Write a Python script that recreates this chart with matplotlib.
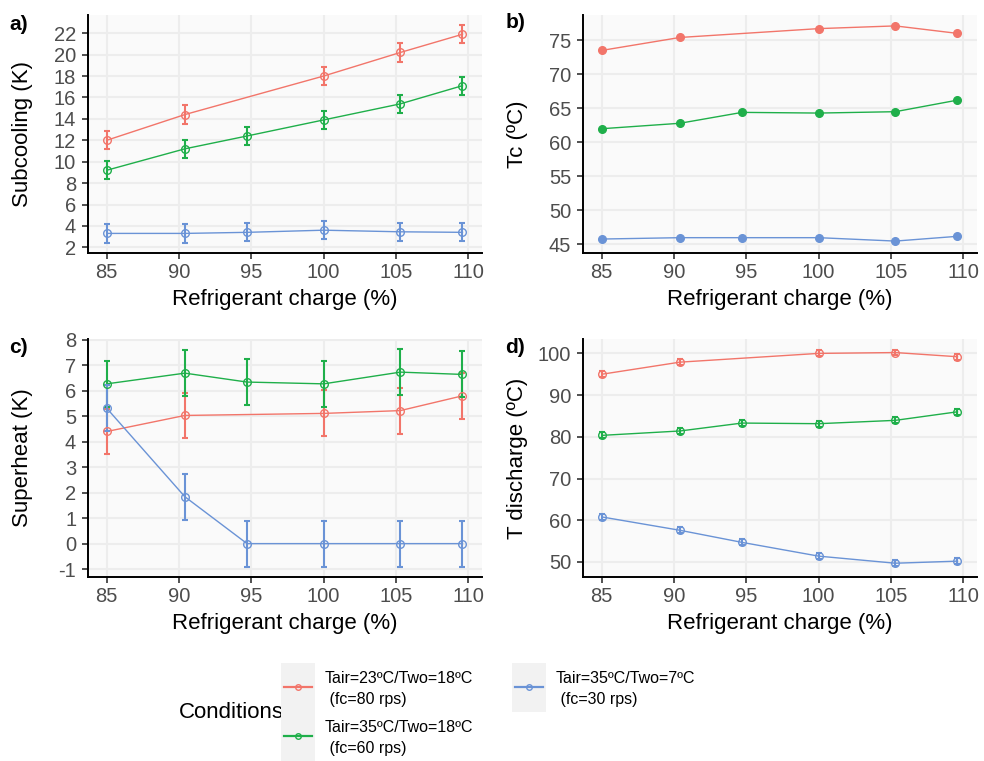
import matplotlib
matplotlib.use("Agg")
import matplotlib.pyplot as plt
from matplotlib.legend_handler import HandlerLine2D
from matplotlib.lines import Line2D
from matplotlib.patches import Rectangle

plt.rcParams["font.family"] = ["Liberation Sans", "DejaVu Sans"]
plt.rcParams["axes.unicode_minus"] = False

# ======================================
# DATA
# ======================================
charge = [85, 90.4, 94.7, 100, 105.3, 109.6]
charge_red = [85, 90.4, 100, 105.3, 109.6]   # no point at ~95 % for this condition

conditions = ["Tair=23ºC/Two=18ºC\n (fc=80 rps)",
              "Tair=35ºC/Two=18ºC\n (fc=60 rps)",
              "Tair=35ºC/Two=7ºC\n (fc=30 rps)"]
colors = ["#F2756A", "#1FAF4A", "#6A93D6"]

# a) subcooling (K)
sub_red = [12.0, 14.4, 18.0, 20.2, 21.9]
sub_green = [9.2, 11.2, 12.4, 13.9, 15.4, 17.1]
sub_blue = [3.3, 3.3, 3.4, 3.6, 3.45, 3.4]
sub_err = 0.85

# b) condensing temperature (ºC)
tc_red = [73.5, 75.4, 76.7, 77.1, 76.0]
tc_green = [62.0, 62.8, 64.4, 64.3, 64.5, 66.2]
tc_blue = [45.8, 46.0, 46.0, 46.0, 45.5, 46.2]

# c) superheat (K)
sh_red = [4.4, 5.03, 5.11, 5.22, 5.8]
sh_green = [6.27, 6.69, 6.34, 6.27, 6.73, 6.64]
sh_blue = [5.31, 1.84, 0.0, 0.0, 0.0, 0.0]
sh_err = 0.9

# d) discharge temperature (ºC)
td_red = [95.0, 97.9, 100.0, 100.2, 99.2]
td_green = [80.35, 81.4, 83.3, 83.15, 83.95, 86.0]
td_blue = [60.8, 57.6, 54.7, 51.4, 49.7, 50.2]
td_err = 0.7


# ======================================
# HELPERS
# ======================================
def draw_panel(ax, red, green, blue, err, ylabel, yticks, ylim, filled=False):
    groups = [(charge_red, red, colors[0]),
              (charge, green, colors[1]),
              (charge, blue, colors[2])]
    for xs, ys, c in groups:
        ax.plot(xs, ys, color=c, lw=1.0, zorder=3)
        if err is not None:
            ax.errorbar(xs, ys, yerr=err, fmt="none", ecolor=c,
                        elinewidth=1.5, capsize=2.5, capthick=1.5, zorder=3)
        ax.plot(xs, ys, ls="none", marker="o", ms=5.5,
                mfc=c if filled else "none", mec=c, mew=1.0, zorder=4)

    ax.set_facecolor("#FAFAFA")
    ax.grid(True, color="#EDEDED", lw=1.5)
    ax.set_axisbelow(True)
    for s in ["top", "right"]:
        ax.spines[s].set_visible(False)
    for s in ["left", "bottom"]:
        ax.spines[s].set_linewidth(1.4)
        ax.spines[s].set_color("black")

    ax.set_xlim(83.7, 110.95)
    ax.set_xticks([85, 90, 95, 100, 105, 110])
    ax.set_ylim(*ylim)
    ax.set_yticks(yticks)
    ax.tick_params(axis="both", length=4, width=1.2, color="#333333",
                   labelcolor="#4D4D4D", labelsize=14.5)
    ax.tick_params(axis="x", pad=3.5)
    ax.tick_params(axis="y", pad=4.5)

    ax.set_xlabel("Refrigerant charge (%)", fontsize=16, labelpad=5)
    ax.set_ylabel(ylabel, fontsize=16)
    ax.yaxis.set_label_coords(-0.139, 0.5)


class KeyHandler(HandlerLine2D):
    # ggplot-like legend key: grey box with a line and a hollow point
    def legend_artist(self, legend, orig_handle, fontsize, handlebox):
        # legend texts are centred on the baseline (multilinebaseline),
        # so lift the baseline to get the two-line label centred on the key
        handlebox.height = 3.06 * fontsize
        handlebox.ydescent = 1.03 * fontsize
        return super().legend_artist(legend, orig_handle, fontsize, handlebox)

    def create_artists(self, legend, orig_handle, xdescent, ydescent,
                       width, height, fontsize, trans):
        c = orig_handle.get_color()
        ymid = height / 2 - ydescent
        bg = Rectangle((-xdescent, -ydescent), width, height,
                       facecolor="#F2F2F2", edgecolor="none")
        ln = Line2D([-xdescent + 0.08 * width, -xdescent + 0.92 * width],
                    [ymid, ymid], color=c, lw=1.6)
        mk = Line2D([-xdescent + 0.5 * width], [ymid], ls="none", marker="o",
                    ms=4, mfc="none", mec=c, mew=1.0)
        for a in (bg, ln, mk):
            a.set_transform(trans)
        return [bg, ln, mk]


# ======================================
# FIGURE
# ======================================
fig = plt.figure(figsize=(9.84, 7.61), dpi=100)
W, H = 984, 761


def add_axes_px(left, top, right, bottom):
    return fig.add_axes([left / W, 1 - bottom / H, (right - left) / W, (bottom - top) / H])


ax_a = add_axes_px(88, 15, 482, 253)
ax_b = add_axes_px(583, 15, 977, 253)
ax_c = add_axes_px(88, 339, 482, 577)
ax_d = add_axes_px(583, 339, 977, 577)

draw_panel(ax_a, sub_red, sub_green, sub_blue, sub_err, "Subcooling (K)",
           list(range(2, 23, 2)), (1.47, 23.7))
draw_panel(ax_b, tc_red, tc_green, tc_blue, None, "Tc (ºC)",
           [45, 50, 55, 60, 65, 70, 75], (43.75, 78.7), filled=True)
draw_panel(ax_c, sh_red, sh_green, sh_blue, sh_err, "Superheat (K)",
           list(range(-1, 9)), (-1.31, 8.03))
draw_panel(ax_d, td_red, td_green, td_blue, td_err, "T discharge (ºC)",
           [50, 60, 70, 80, 90, 100], (46.4, 103.45))

for tag, x, y in [("a)", 18.5, 24), ("b)", 515.5, 22), ("c)", 18.5, 347), ("d)", 515.5, 347)]:
    fig.text(x / W, 1 - y / H, tag, fontsize=15, fontweight="bold",
             ha="center", va="center")

# ======================================
# LEGEND
# ======================================
handles = [Line2D([], [], color=c, marker="o", mfc="none") for c in colors]
leg = fig.legend(handles, conditions, loc="upper left",
                 bbox_to_anchor=(281 / W, 1 - 663 / H), ncol=2, frameon=False,
                 fontsize=11.5, borderpad=0, borderaxespad=0,
                 handlelength=2.13, handleheight=3.06, handletextpad=0.63,
                 labelspacing=0, columnspacing=2.4,
                 handler_map={Line2D: KeyHandler()})
for t in leg.get_texts():
    t.set_linespacing(1.5)
fig.text(231 / W, 1 - 713 / H, "Conditions", fontsize=16, ha="center", va="center")

fig.savefig("out.png", dpi=100)
